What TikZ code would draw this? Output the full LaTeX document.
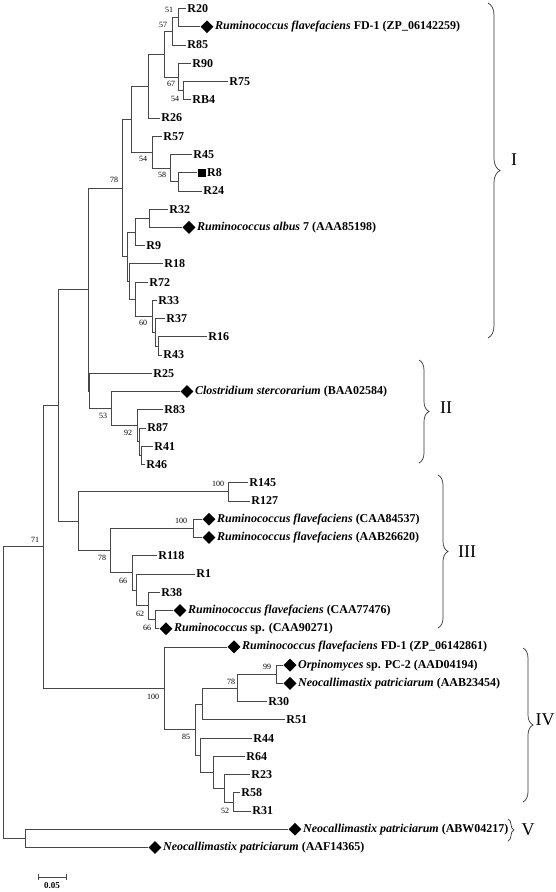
\documentclass[tikz,border=0pt]{standalone}
\usepackage{fontspec}
\setmainfont{Liberation Serif}
\usetikzlibrary{shapes.geometric,decorations.pathreplacing}
\begin{document}
\begin{tikzpicture}[x=1pt,y=-1pt,
 br/.style={draw=black!72, line width=0.75pt},
 leaf/.style={anchor=west, inner sep=1.2pt, font=\fontsize{12}{12}\selectfont\bfseries},
 bs/.style={font=\fontsize{8}{8}\selectfont, inner sep=0pt},
 dia/.style={diamond, fill=black, inner sep=0pt, minimum size=13pt},
 sq/.style={rectangle, fill=black, inner sep=0pt, minimum size=8pt},
 clade/.style={font=\fontsize{18}{18}\selectfont, inner sep=0pt},
 cbrace/.style={draw=black!80, line width=0.7pt, decorate, decoration={brace, amplitude=#1}}
]
\useasboundingbox (0,0) rectangle (556,892);
% ---------- internal nodes ----------
\coordinate (n51) at (178,17.62);
\coordinate (n57) at (172,31.3);
\coordinate (n54a) at (183,90.58);
\coordinate (n67) at (178,76.9);
\coordinate (nB) at (164,54.1);
\coordinate (nA) at (148,86.02);
\coordinate (nR8) at (178,181.78);
\coordinate (n58) at (170,168.1);
\coordinate (n54b) at (152,152.14);
\coordinate (nAA) at (131,119.08);
\coordinate (nC2) at (149,218.26);
\coordinate (nC) at (135,231.94);
\coordinate (J) at (158,345.94);
\coordinate (I) at (155,332.26);
\coordinate (H) at (152,316.3);
\coordinate (G) at (135,299.2);
\coordinate (F) at (129,281.53);
\coordinate (D) at (127,256.74);
\coordinate (n78) at (122,187.91);
\coordinate (Z2) at (141,455.38);
\coordinate (Z) at (139,441.7);
\coordinate (n92) at (137,425.74);
\coordinate (n53) at (111,408.64);
\coordinate (L) at (89,390.97);
\coordinate (K) at (88,289.44);
\coordinate (n100a) at (228,491.86);
\coordinate (n100b) at (193,528.34);
\coordinate (R) at (155,619.54);
\coordinate (Q) at (148,605.86);
\coordinate (P) at (136,589.9);
\coordinate (O) at (132,572.8);
\coordinate (n78c) at (110,550.57);
\coordinate (N) at (78,521.2);
\coordinate (M) at (58,405.32);
\coordinate (n99) at (276,674.26);
\coordinate (n78d) at (237,687.94);
\coordinate (Y) at (202,703.9);
\coordinate (n52) at (233,801.94);
\coordinate (V) at (224,788.26);
\coordinate (W) at (213,772.3);
\coordinate (X) at (200,755.2);
\coordinate (n85) at (195,729.55);
\coordinate (n100c) at (164,688.2);
\coordinate (n71) at (43,546.76);
\coordinate (Vn) at (25,838.42);
\coordinate (root) at (3,692.59);
% ---------- leaf tips ----------
\coordinate (l1) at (186,8.5);
\node[dia] (d2) at (207,26.74) {};
\coordinate (l3) at (186,44.98);
\coordinate (l4) at (191,63.22);
\coordinate (l5) at (228,81.46);
\coordinate (l6) at (191,99.7);
\coordinate (l7) at (160,117.94);
\coordinate (l8) at (162,136.18);
\coordinate (l9) at (192,154.42);
\node[sq] (s10) at (201.5,172.66) {};
\coordinate (l11) at (202,190.9);
\coordinate (l12) at (168,209.14);
\node[dia] (d13) at (189,227.38) {};
\coordinate (l14) at (145,245.62);
\coordinate (l15) at (163,263.86);
\coordinate (l16) at (148,282.1);
\coordinate (l17) at (157,300.34);
\coordinate (l18) at (165,318.58);
\coordinate (l19) at (207,336.82);
\coordinate (l20) at (162,355.06);
\coordinate (l21) at (152,373.3);
\node[dia] (d22) at (187,391.54) {};
\coordinate (l23) at (163,409.78);
\coordinate (l24) at (146,428.02);
\coordinate (l25) at (153,446.26);
\coordinate (l26) at (145,464.5);
\coordinate (l27) at (248,482.74);
\coordinate (l28) at (250,500.98);
\node[dia] (d29) at (209,519.22) {};
\node[dia] (d30) at (209,537.46) {};
\coordinate (l31) at (157,555.7);
\coordinate (l32) at (195,573.94);
\coordinate (l33) at (160,592.18);
\node[dia] (d34) at (180,610.42) {};
\node[dia] (d35) at (166,628.66) {};
\node[dia] (d36) at (234,646.9) {};
\node[dia] (d37) at (290,665.14) {};
\node[dia] (d38) at (290,683.38) {};
\coordinate (l39) at (267,701.62);
\coordinate (l40) at (285,719.86);
\coordinate (l41) at (252,738.1);
\coordinate (l42) at (245,756.34);
\coordinate (l43) at (250,774.58);
\coordinate (l44) at (240,792.82);
\coordinate (l45) at (251,811.06);
\node[dia] (d46) at (295,829.3) {};
\node[dia] (d47) at (155,847.54) {};
% ---------- branches ----------
\draw[br] (n51) |- (l1);
\draw[br] (n51) |- (d2.west);
\draw[br] (n57) |- (n51);
\draw[br] (n57) |- (l3);
\draw[br] (n67) |- (l4);
\draw[br] (n54a) |- (l5);
\draw[br] (n54a) |- (l6);
\draw[br] (n67) |- (n54a);
\draw[br] (nB) |- (n57);
\draw[br] (nB) |- (n67);
\draw[br] (nA) |- (nB);
\draw[br] (nA) |- (l7);
\draw[br] (n54b) |- (l8);
\draw[br] (n58) |- (l9);
\draw[br] (nR8) |- (s10.west);
\draw[br] (nR8) |- (l11);
\draw[br] (n58) |- (nR8);
\draw[br] (n54b) |- (n58);
\draw[br] (nAA) |- (nA);
\draw[br] (nAA) |- (n54b);
\draw[br] (nC2) |- (l12);
\draw[br] (nC2) |- (d13.west);
\draw[br] (nC) |- (nC2);
\draw[br] (nC) |- (l14);
\draw[br] (F) |- (l15);
\draw[br] (G) |- (l16);
\draw[br] (H) |- (l17);
\draw[br] (I) |- (l18);
\draw[br] (J) |- (l19);
\draw[br] (J) |- (l20);
\draw[br] (I) |- (J);
\draw[br] (H) |- (I);
\draw[br] (G) |- (H);
\draw[br] (F) |- (G);
\draw[br] (D) |- (nC);
\draw[br] (D) |- (F);
\draw[br] (n78) |- (nAA);
\draw[br] (n78) |- (D);
\draw[br] (L) |- (l21);
\draw[br] (n53) |- (d22.west);
\draw[br] (n92) |- (l23);
\draw[br] (Z) |- (l24);
\draw[br] (Z2) |- (l25);
\draw[br] (Z2) |- (l26);
\draw[br] (Z) |- (Z2);
\draw[br] (n92) |- (Z);
\draw[br] (n53) |- (n92);
\draw[br] (L) |- (n53);
\draw[br] (K) |- (n78);
\draw[br] (K) |- (L);
\draw[br] (n100a) |- (l27);
\draw[br] (n100a) |- (l28);
\draw[br] (n100b) |- (d29.west);
\draw[br] (n100b) |- (d30.west);
\draw[br] (O) |- (l31);
\draw[br] (P) |- (l32);
\draw[br] (Q) |- (l33);
\draw[br] (R) |- (d34.west);
\draw[br] (R) |- (d35.west);
\draw[br] (Q) |- (R);
\draw[br] (P) |- (Q);
\draw[br] (O) |- (P);
\draw[br] (n78c) |- (n100b);
\draw[br] (n78c) |- (O);
\draw[br] (N) |- (n100a);
\draw[br] (N) |- (n78c);
\draw[br] (M) |- (K);
\draw[br] (M) |- (N);
\draw[br] (n100c) |- (d36.west);
\draw[br] (n99) |- (d37.west);
\draw[br] (n99) |- (d38.west);
\draw[br] (n78d) |- (n99);
\draw[br] (n78d) |- (l39);
\draw[br] (Y) |- (n78d);
\draw[br] (Y) |- (l40);
\draw[br] (X) |- (l41);
\draw[br] (W) |- (l42);
\draw[br] (V) |- (l43);
\draw[br] (n52) |- (l44);
\draw[br] (n52) |- (l45);
\draw[br] (V) |- (n52);
\draw[br] (W) |- (V);
\draw[br] (X) |- (W);
\draw[br] (n85) |- (Y);
\draw[br] (n85) |- (X);
\draw[br] (n100c) |- (n85);
\draw[br] (n71) |- (M);
\draw[br] (n71) |- (n100c);
\draw[br] (Vn) |- (d46.west);
\draw[br] (Vn) |- (d47.west);
\draw[br] (root) |- (n71);
\draw[br] (root) |- (Vn);
% ---------- leaf labels ----------
\node[leaf] (t1) at (l1) {R20};
\node[leaf] (t2) at (d2.east) {\textit{Ruminococcus flavefaciens} FD-1 (ZP\_06142259)};
\node[leaf] (t3) at (l3) {R85};
\node[leaf] (t4) at (l4) {R90};
\node[leaf] (t5) at (l5) {R75};
\node[leaf] (t6) at (l6) {RB4};
\node[leaf] (t7) at (l7) {R26};
\node[leaf] (t8) at (l8) {R57};
\node[leaf] (t9) at (l9) {R45};
\node[leaf] (t10) at (s10.east) {R8};
\node[leaf] (t11) at (l11) {R24};
\node[leaf] (t12) at (l12) {R32};
\node[leaf] (t13) at (d13.east) {\textit{Ruminococcus albus} 7 (AAA85198)};
\node[leaf] (t14) at (l14) {R9};
\node[leaf] (t15) at (l15) {R18};
\node[leaf] (t16) at (l16) {R72};
\node[leaf] (t17) at (l17) {R33};
\node[leaf] (t18) at (l18) {R37};
\node[leaf] (t19) at (l19) {R16};
\node[leaf] (t20) at (l20) {R43};
\node[leaf] (t21) at (l21) {R25};
\node[leaf] (t22) at (d22.east) {\textit{Clostridium stercorarium} (BAA02584)};
\node[leaf] (t23) at (l23) {R83};
\node[leaf] (t24) at (l24) {R87};
\node[leaf] (t25) at (l25) {R41};
\node[leaf] (t26) at (l26) {R46};
\node[leaf] (t27) at (l27) {R145};
\node[leaf] (t28) at (l28) {R127};
\node[leaf] (t29) at (d29.east) {\textit{Ruminococcus flavefaciens} (CAA84537)};
\node[leaf] (t30) at (d30.east) {\textit{Ruminococcus flavefaciens} (AAB26620)};
\node[leaf] (t31) at (l31) {R118};
\node[leaf] (t32) at (l32) {R1};
\node[leaf] (t33) at (l33) {R38};
\node[leaf] (t34) at (d34.east) {\textit{Ruminococcus flavefaciens} (CAA77476)};
\node[leaf] (t35) at (d35.east) {\textit{Ruminococcus} sp. (CAA90271)};
\node[leaf] (t36) at (d36.east) {\textit{Ruminococcus flavefaciens} FD-1 (ZP\_06142861)};
\node[leaf] (t37) at (d37.east) {\textit{Orpinomyces} sp. PC-2 (AAD04194)};
\node[leaf] (t38) at (d38.east) {\textit{Neocallimastix patriciarum} (AAB23454)};
\node[leaf] (t39) at (l39) {R30};
\node[leaf] (t40) at (l40) {R51};
\node[leaf] (t41) at (l41) {R44};
\node[leaf] (t42) at (l42) {R64};
\node[leaf] (t43) at (l43) {R23};
\node[leaf] (t44) at (l44) {R58};
\node[leaf] (t45) at (l45) {R31};
\node[leaf] (t46) at (d46.east) {\textit{Neocallimastix patriciarum} (ABW04217)};
\node[leaf] (t47) at (d47.east) {\textit{Neocallimastix patriciarum} (AAF14365)};
% ---------- bootstrap values ----------
\node[bs] (b51) at (169,10) {51};
\node[bs] (b57) at (163,25) {57};
\node[bs] (b67) at (171,84) {67};
\node[bs] (b54a) at (175,99) {54};
\node[bs] (b78a) at (114,180) {78};
\node[bs] (b54b) at (143,159) {54};
\node[bs] (b58) at (162,175) {58};
\node[bs] (b60) at (143,323) {60};
\node[bs] (b53) at (103,416) {53};
\node[bs] (b92) at (128,433) {92};
\node[bs] (b100a) at (218,484) {100};
\node[bs] (b100b) at (181,521) {100};
\node[bs] (b78c) at (102,558) {78};
\node[bs] (b71) at (35,540) {71};
\node[bs] (b66a) at (123,581) {66};
\node[bs] (b62) at (140,614) {62};
\node[bs] (b66b) at (147,628) {66};
\node[bs] (b100c) at (153,697) {100};
\node[bs] (b99) at (267,667) {99};
\node[bs] (b78d) at (231,682) {78};
\node[bs] (b85) at (186,737) {85};
\node[bs] (b52) at (225,811) {52};
% ---------- clade braces ----------
\draw[cbrace=12pt] (488,3) -- (488,338);
\node[clade] (cI) at (514,160) {I};
\draw[cbrace=10pt] (419,360) -- (419,463);
\node[clade] (cII) at (446,408) {II};
\draw[cbrace=10pt] (438,475) -- (438,628);
\node[clade] (cIII) at (467,552) {III};
\draw[cbrace=10pt] (523,648) -- (523,802);
\node[clade] (cIV) at (545,720) {IV};
\draw[cbrace=6pt] (508,819) -- (508,841);
\node[clade] (cV) at (528,830) {V};
% ---------- scale bar ----------
\coordinate (sb1) at (38,877);
\coordinate (sb2) at (66,877);
\draw[br] (sb1) -- (sb2);
\draw[br] ([yshift=-3pt]sb1) -- ([yshift=3pt]sb1);
\draw[br] ([yshift=-3pt]sb2) -- ([yshift=3pt]sb2);
\node[font=\fontsize{9}{9}\selectfont\bfseries, inner sep=0pt] (sbl) at (52,886) {0.05};
\end{tikzpicture}
\end{document}
